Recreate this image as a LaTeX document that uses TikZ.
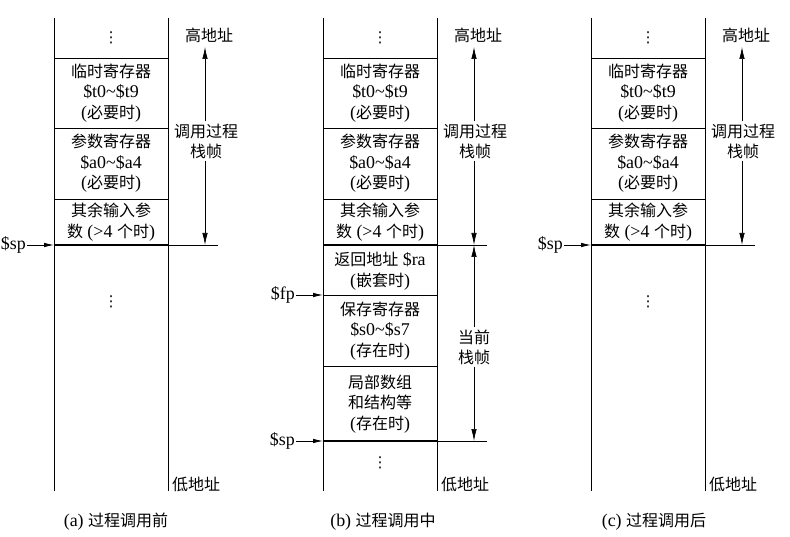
\documentclass[tikz,border=0pt]{standalone}
\usepackage{fontspec}
\setmainfont[Scale=1.12]{Liberation Serif}
\newfontfamily\cjkfont{Noto Sans CJK SC}
\newfontfamily\symfont{DejaVu Sans}
\newcommand\zhtext[1]{{\cjkfont #1}}
\newcommand\vdotsym{{\symfont ⋮}}
\usetikzlibrary{arrows.meta}
\newcommand\upperframe[1]{%
  \draw[wall] (0,18) -- (0,491);
  \draw[wall] (114,18) -- (114,491);
  \node[dotcell] (#1d0) at (57,38) {\vdotsym};
  \draw[sepline] (0,58) -- (114,58);
  \node[cell] (#1c1) at (57,93) {\zhtext{临时寄存器}\\\$t0\textasciitilde\$t9\\(\zhtext{必要时})};
  \draw[sepline] (0,128) -- (114,128);
  \node[cell] (#1c2) at (57,163.5) {\zhtext{参数寄存器}\\\$a0\textasciitilde\$a4\\(\zhtext{必要时})};
  \draw[sepline] (0,199) -- (114,199);
  \node[cell] (#1c3) at (57,222) {\zhtext{其余输入参}\\\zhtext{数} (>4 \zhtext{个时})};
  \draw[spline] (0,245) -- (114,245);
  \draw[tick] (114,245) -- (164,245);
  \node[lbl] (#1hi) at (155,35) {\zhtext{高地址}};
  \node[lbl] (#1lo) at (142,484) {\zhtext{低地址}};
  \coordinate (#1top) at (151,47);
  \coordinate (#1base) at (151,245);
  \node[spanlbl] (#1span) at (152,141) {\zhtext{调用过程}\\\zhtext{栈帧}};
  \draw[half] (#1span.north -| #1top) -- (#1top);
  \draw[half] (#1span.south -| #1base) -- (#1base);
}
\begin{document}
\begin{tikzpicture}[x=1pt,y=-1pt,
  cell/.style={align=center, font=\fontsize{16}{20.5}\selectfont, inner sep=0pt},
  dotcell/.style={font=\fontsize{15}{15}\selectfont, inner sep=0pt},
  lbl/.style={font=\fontsize{16}{20}\selectfont, inner sep=1pt},
  spanlbl/.style={align=center, font=\fontsize{16}{20}\selectfont, inner sep=2pt, fill=white},
  wall/.style={line width=0.9pt},
  sepline/.style={line width=0.8pt},
  spline/.style={line width=2.2pt},
  tick/.style={line width=0.6pt},
  ptr/.style={-{Latex[length=10pt,width=4.5pt]}, line width=0.8pt},
  half/.style={-{Latex[length=12pt,width=5.5pt]}, line width=0.7pt},
  regname/.style={font=\fontsize{16}{18}\selectfont, inner sep=1pt, anchor=east}
]
\useasboundingbox (0,0) rectangle (790,537);

% ---------- (a) ----------
\begin{scope}[shift={(54,0)}]
  \upperframe{a}
  \node[dotcell] (ad1) at (57,302) {\vdotsym};
  \node[regname] (asp) at (-27,245) {\$sp};
  \coordinate (aspw) at (0,245);
  \draw[ptr] (asp) -- (aspw);
  \node[lbl] (acap) at (62,522) {(a) \zhtext{过程调用前}};
\end{scope}

% ---------- (b) ----------
\begin{scope}[shift={(323,0)}]
  \upperframe{b}
  \node[cell] (bc4) at (57,271) {\zhtext{返回地址} \$ra\\(\zhtext{嵌套时})};
  \draw[sepline] (0,295) -- (114,295);
  \node[cell] (bc5) at (57,331) {\zhtext{保存寄存器}\\\$s0\textasciitilde\$s7\\(\zhtext{存在时})};
  \draw[sepline] (0,366) -- (114,366);
  \node[cell] (bc6) at (57,404) {\zhtext{局部数组}\\\zhtext{和结构等}\\(\zhtext{存在时})};
  \draw[spline] (0,441) -- (114,441);
  \draw[tick] (114,441) -- (164,441);
  \node[dotcell] (bd1) at (57,463) {\vdotsym};
  \coordinate (bcurtop) at (151,245);
  \coordinate (bcurbase) at (151,441);
  \node[spanlbl] (bcur) at (151,347) {\zhtext{当前}\\\zhtext{栈帧}};
  \draw[half] (bcur.north) -- (bcurtop);
  \draw[half] (bcur.south) -- (bcurbase);
  \node[regname] (bfp) at (-27,295) {\$fp};
  \coordinate (bfpw) at (0,295);
  \draw[ptr] (bfp) -- (bfpw);
  \node[regname] (bsp) at (-27,441) {\$sp};
  \coordinate (bspw) at (0,441);
  \draw[ptr] (bsp) -- (bspw);
  \node[lbl] (bcap) at (60,522) {(b) \zhtext{过程调用中}};
\end{scope}

% ---------- (c) ----------
\begin{scope}[shift={(591,0)}]
  \upperframe{c}
  \node[dotcell] (cd1) at (57,302) {\vdotsym};
  \node[regname] (csp) at (-27,245) {\$sp};
  \coordinate (cspw) at (0,245);
  \draw[ptr] (csp) -- (cspw);
  \node[lbl] (ccap) at (63,522) {(c) \zhtext{过程调用后}};
\end{scope}
\end{tikzpicture}
\end{document}
